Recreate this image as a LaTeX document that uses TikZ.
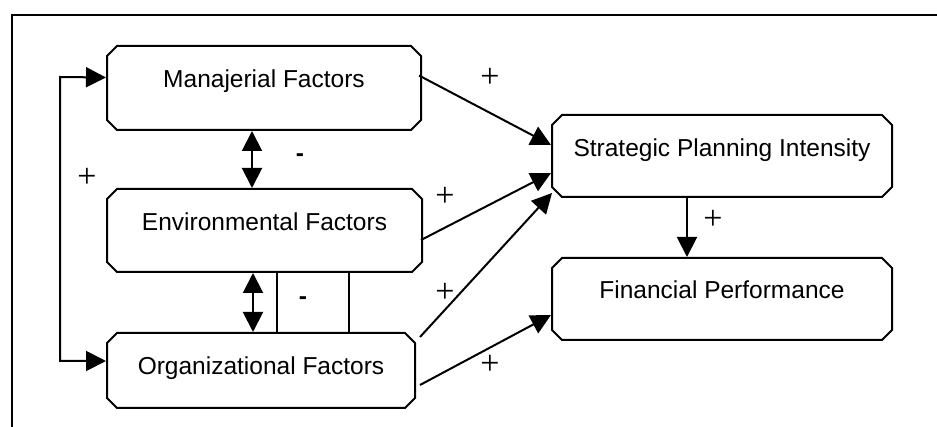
\documentclass[tikz,border=0pt]{standalone}
\usepackage{fontspec}
\setmainfont{Liberation Sans}
\newfontfamily\signfont{Liberation Serif}
\usetikzlibrary{arrows.meta,shapes.misc}

\tikzset{
  factor/.style={chamfered rectangle, chamfered rectangle xsep=5pt,
    chamfered rectangle ysep=5pt, draw, line width=2pt, inner sep=0pt,
    font=\fontsize{24.5}{29}\selectfont},
  link/.style={line width=2pt, -{Triangle[length=20pt,width=20pt]}},
  both/.style={line width=2pt, {Triangle[length=20pt,width=20pt]}-{Triangle[length=20pt,width=20pt]}},
  plain/.style={line width=2pt},
  sign/.style={inner sep=0pt, font=\signfont\fontsize{34}{36}\selectfont},
  minus/.style={inner sep=0pt, font=\fontsize{24.5}{29}\selectfont\bfseries}
}

\begin{document}
\begin{tikzpicture}[x=1pt,y=-1pt]
\useasboundingbox (0,0) rectangle (937,427);

% outer frame (top and left edges)
\draw[line width=2pt] (937,15) -- (12,15) -- (12,427);

% factor boxes
\node[factor, minimum width=314pt, text height=37pt, text depth=37pt] (man) at (264,88) {Manajerial Factors};
\node[factor, minimum width=315pt, text height=36.5pt, text depth=36.5pt] (env) at (264.5,230.5) {Environmental Factors};
\node[factor, minimum width=308pt, text height=37pt, text depth=28pt] (org) at (261,370.5) {Organizational Factors};
\node[factor, minimum width=340pt, text height=37pt, text depth=35pt] (spi) at (722,156) {Strategic Planning Intensity};
\node[factor, minimum width=340pt, text height=36pt, text depth=36pt] (fin) at (722,299) {Financial Performance};

% feedback loop on the left
\coordinate (lt) at (60,77);
\coordinate (lb) at (60,361);
\draw[both] ([yshift=10.5pt]man.west) -- (lt) -- (lb) -- ([yshift=9.5pt]org.west);

% mutual links between the factors
\draw[both] ([xshift=-12pt]man.south) -- ([xshift=-12pt]man.south |- env.north);
\draw[both] ([xshift=-11.5pt]env.south) -- ([xshift=-11.5pt]env.south |- org.north);
\draw[plain] ([xshift=12.5pt]env.south) -- ([xshift=12.5pt]env.south |- org.north);
\draw[plain] ([xshift=84.5pt]env.south) -- ([xshift=84.5pt]env.south |- org.north);

% effects on planning and performance
\draw[link] ([xshift=-3pt,yshift=12.5pt]man.east) -- ([yshift=11pt]spi.west);
\draw[link] ([xshift=-2pt,yshift=-9.5pt]env.east) -- ([yshift=-17pt]spi.west);
\draw[link] ([xshift=4pt,yshift=33.5pt]org.east) -- ([xshift=1pt,yshift=-37pt]spi.west);
\draw[link] ([xshift=4pt,yshift=-14.5pt]org.east) -- ([yshift=-16pt]fin.west);
\draw[link] ([xshift=-35pt]spi.south) -- ([xshift=-35pt]spi.south |- fin.north);

% signs
\node[sign] (p1) at (87,178) {+};
\node[sign] (p2) at (490,78) {+};
\node[sign] (p3) at (445,197) {+};
\node[sign] (p4) at (445,293) {+};
\node[sign] (p5) at (490,365) {+};
\node[sign] (p6) at (713,220) {+};
\node[minus] (m1) at (300,158) {-};
\node[minus] (m2) at (303,301) {-};
\end{tikzpicture}
\end{document}
